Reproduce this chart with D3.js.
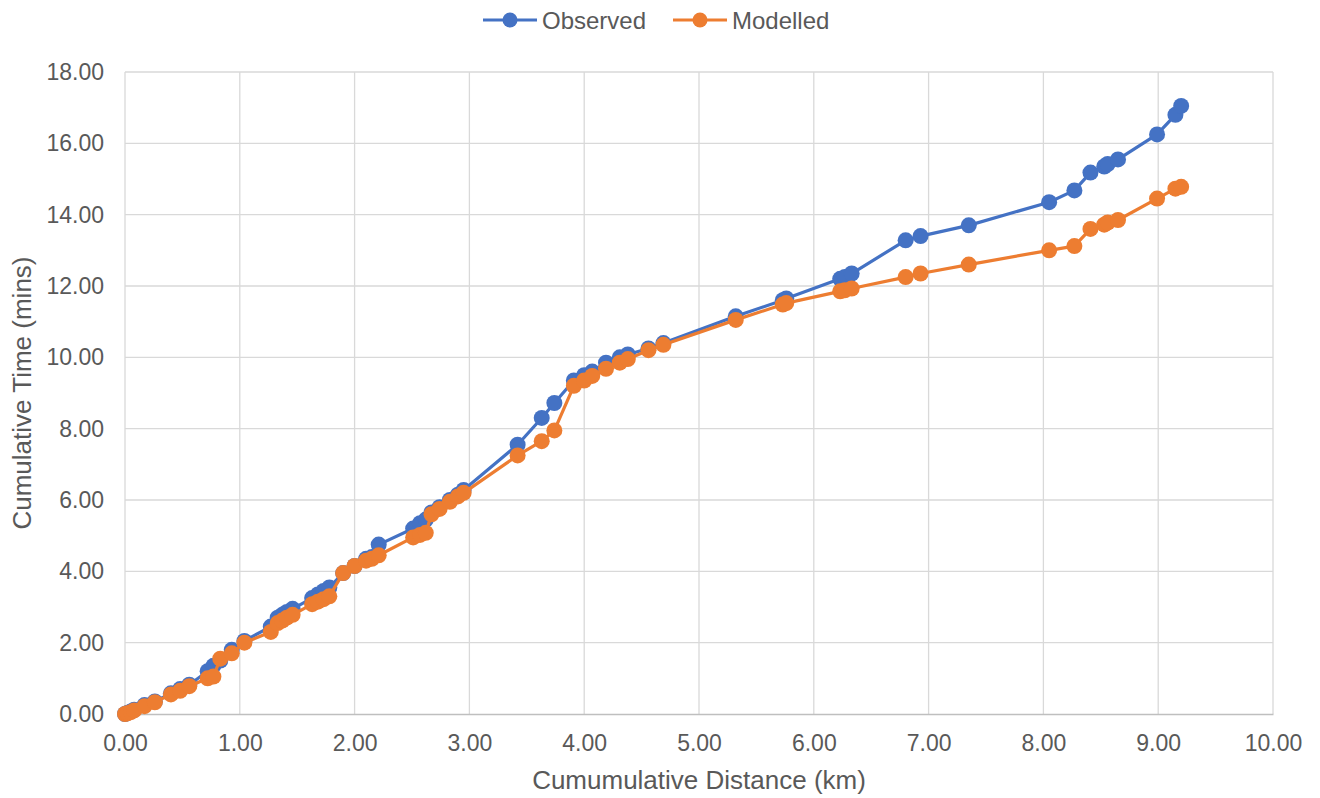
<!DOCTYPE html>
<html>
<head>
<meta charset="utf-8">
<script src="https://cdn.jsdelivr.net/npm/d3@7"></script>
<style>
  html, body { margin: 0; padding: 0; background: #fff; }
  svg { display: block; font-family: "Liberation Sans", Arial, sans-serif; }
</style>
</head>
<body>
<svg id="chart" width="1320" height="798"></svg>
<script>
const seriesNames = ["Observed", "Modelled"];
const seriesColors = ["#4472C4", "#ED7D31"];
const distance = [0.00,0.02,0.05,0.08,0.17,0.26,0.40,0.48,0.56,0.72,0.77,0.83,0.93,1.04,1.27,1.33,1.37,1.41,1.46,1.63,1.68,1.73,1.78,1.90,2.00,2.10,2.15,2.21,2.51,2.57,2.62,2.67,2.74,2.83,2.90,2.95,3.42,3.63,3.74,3.91,4.00,4.07,4.19,4.31,4.38,4.56,4.69,5.32,5.73,5.76,6.23,6.27,6.33,6.80,6.93,7.35,8.05,8.27,8.41,8.53,8.56,8.65,8.99,9.15,9.20];
const observed = [0,0.03,0.07,0.12,0.25,0.35,0.58,0.70,0.82,1.20,1.35,1.50,1.80,2.05,2.45,2.70,2.78,2.86,2.95,3.25,3.35,3.45,3.55,3.95,4.15,4.35,4.40,4.75,5.20,5.35,5.45,5.65,5.80,6.00,6.15,6.28,7.55,8.30,8.72,9.35,9.50,9.60,9.85,10.00,10.08,10.25,10.40,11.15,11.60,11.65,12.20,12.25,12.35,13.28,13.40,13.70,14.35,14.68,15.18,15.35,15.42,15.55,16.25,16.80,17.05];
const modelled = [0,0.02,0.05,0.10,0.22,0.33,0.55,0.65,0.78,1.00,1.05,1.55,1.70,2.00,2.30,2.55,2.62,2.70,2.78,3.08,3.15,3.22,3.30,3.95,4.15,4.30,4.35,4.45,4.95,5.02,5.08,5.60,5.75,5.95,6.10,6.20,7.25,7.65,7.95,9.20,9.35,9.48,9.68,9.85,9.95,10.20,10.35,11.05,11.48,11.52,11.85,11.88,11.93,12.25,12.35,12.60,13.00,13.12,13.60,13.72,13.78,13.85,14.45,14.73,14.78];
const xTicks = [0,1,2,3,4,5,6,7,8,9,10];
const yTicks = [0,2,4,6,8,10,12,14,16,18];
const xTitle = "Cumumulative Distance (km)";
const yTitle = "Cumulative Time (mins)";

const svg = d3.select("#chart");
const L = 125, R = 1273, T = 72, B = 714;
const x = d3.scaleLinear().domain([0, 10]).range([L, R]);
const y = d3.scaleLinear().domain([0, 18]).range([B, T]);
const textColor = "#595959";

// gridlines
svg.append("g").selectAll("line.h").data(yTicks.filter(d => d > 0)).join("line")
  .attr("x1", L).attr("x2", R).attr("y1", d => y(d)).attr("y2", d => y(d))
  .attr("stroke", "#d9d9d9").attr("stroke-width", 1.3);
svg.append("g").selectAll("line.v").data(xTicks).join("line")
  .attr("x1", d => x(d)).attr("x2", d => x(d)).attr("y1", T).attr("y2", B)
  .attr("stroke", "#d9d9d9").attr("stroke-width", 1.3);

// axes
const xAxis = svg.append("g").attr("transform", `translate(0,${B})`)
  .call(d3.axisBottom(x).tickValues(xTicks).tickFormat(d3.format(".2f")).tickSize(0).tickPadding(21));
xAxis.select(".domain").attr("stroke", "#bfbfbf").attr("stroke-width", 1.3);
xAxis.selectAll("text").attr("fill", textColor).style("font-size", "23px").style("font-family", "Liberation Sans, Arial, sans-serif");

const yAxis = svg.append("g").attr("transform", `translate(${L},0)`)
  .call(d3.axisLeft(y).tickValues(yTicks).tickFormat(d3.format(".2f")).tickSize(0).tickPadding(21));
yAxis.select(".domain").remove();
yAxis.selectAll("text").attr("fill", textColor).style("font-size", "23px").style("font-family", "Liberation Sans, Arial, sans-serif");

// titles
svg.append("text").attr("x", 699).attr("y", 789).attr("text-anchor", "middle")
  .attr("fill", textColor).style("font-size", "26px").text(xTitle);
svg.append("text").attr("transform", `translate(31,${393}) rotate(-90)`).attr("text-anchor", "middle")
  .attr("fill", textColor).style("font-size", "26px").text(yTitle);

// series
const series = [observed, modelled];
const line = d3.line().x(d => x(d[0])).y(d => y(d[1]));
series.forEach((vals, i) => {
  const pts = distance.map((d, j) => [d, vals[j]]);
  const g = svg.append("g");
  g.append("path").datum(pts).attr("d", line).attr("fill", "none")
    .attr("stroke", seriesColors[i]).attr("stroke-width", 3.2).attr("stroke-linejoin", "round");
  g.selectAll("circle").data(pts).join("circle")
    .attr("cx", d => x(d[0])).attr("cy", d => y(d[1])).attr("r", 8)
    .attr("fill", seriesColors[i]);
});

// legend
const legendX = [483, 673];
seriesNames.forEach((name, i) => {
  const g = svg.append("g").attr("transform", `translate(${legendX[i]},20)`);
  g.append("line").attr("x1", 0).attr("x2", 54).attr("y1", 0).attr("y2", 0)
    .attr("stroke", seriesColors[i]).attr("stroke-width", 3.2);
  g.append("circle").attr("cx", 27).attr("cy", 0).attr("r", 7.5).attr("fill", seriesColors[i]);
  g.append("text").attr("x", 59).attr("y", 8.5).attr("fill", textColor)
    .style("font-size", "24px").text(name);
});
</script>
</body>
</html>
